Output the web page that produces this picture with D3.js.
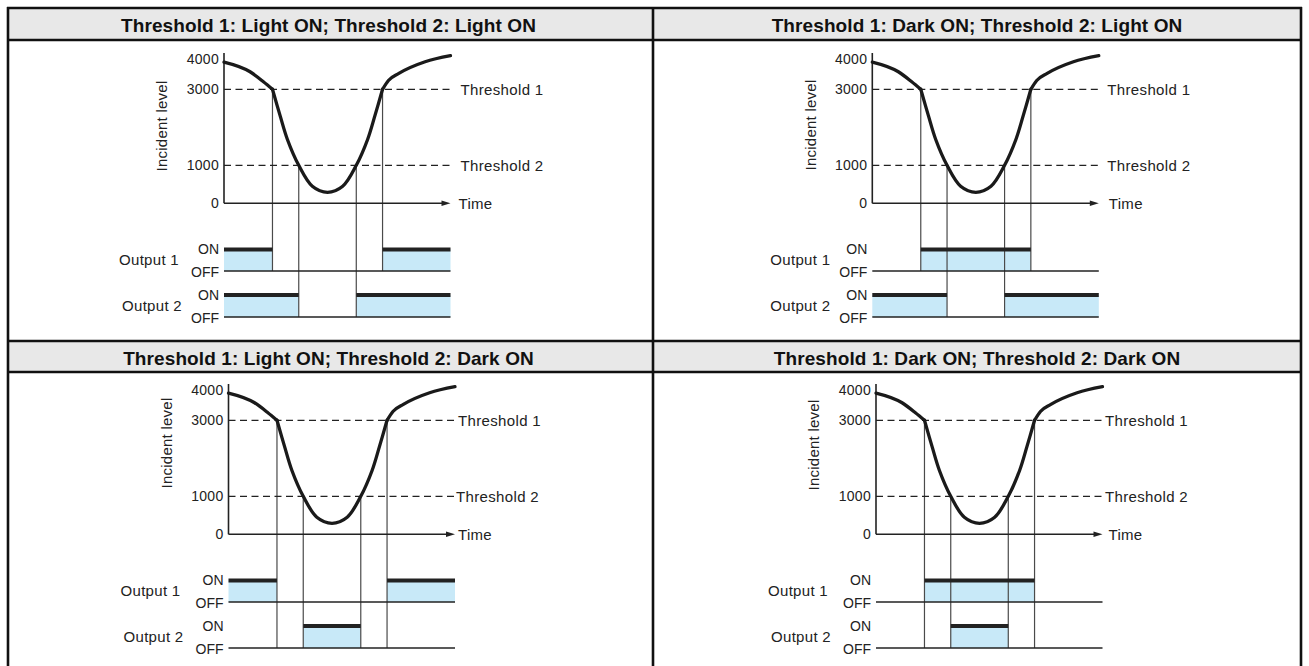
<!DOCTYPE html>
<html><head><meta charset="utf-8">
<script src="https://cdn.jsdelivr.net/npm/d3@7/dist/d3.min.js"></script>
<style>
body{margin:0;background:#fff}
svg{display:block}
text{font-family:"Liberation Sans",Arial,Helvetica,sans-serif;fill:#222}
</style>
</head><body>
<svg id="c" width="1309" height="666"></svg>
<script>
// ---------- data ----------
const panelTitles = [
  "Threshold 1: Light ON; Threshold 2: Light ON",
  "Threshold 1: Dark ON; Threshold 2: Light ON",
  "Threshold 1: Light ON; Threshold 2: Dark ON",
  "Threshold 1: Dark ON; Threshold 2: Dark ON"
];
const yTickValues = [0, 1000, 3000, 4000];
const yTickLabels = ["0", "1000", "3000", "4000"];
const yAxisTitle = "Incident level";
const xAxisTitle = "Time";
const thresholdValues = [3000, 1000];
const thresholdLabels = ["Threshold 1", "Threshold 2"];
const timeRange = [0, 100];
const levelTop = 4200;
// incident-level curve, three pieces (kinks at threshold 1)
const curveTime1  = [0, 11.5, 17.4, 21.4];
const curveLevel1 = [3900, 3580, 3250, 3000];
const curveTime2  = [21.4, 24.8, 28, 33, 39, 45.7, 52.4, 58.4, 63.4, 66.6, 70];
const curveLevel2 = [3000, 2300, 1680, 1000, 450, 290, 450, 1000, 1680, 2300, 3000];
const curveTime3  = [70, 72.6, 77.2, 88.8, 100];
const curveLevel3 = [3000, 3290, 3525, 3910, 4110];
const threshold1Crossings = [21.4, 70];
const threshold2Crossings = [33, 58.4];
const outputModes = [
  ["Light ON", "Light ON"],
  ["Dark ON", "Light ON"],
  ["Light ON", "Dark ON"],
  ["Dark ON", "Dark ON"]
];
const outputLabels = ["Output 1", "Output 2"];
const stateLabels = ["ON", "OFF"];

// ---------- layout ----------
const svg = d3.select("#c");
const BORDER = "#111";
const panels = [
  {x0: 8,   x1: 653,  top: 8,   axisX: 224,   dy: 0,   titleY: 126, outDx: [-45, -42], tGap: [10, 10], timeGap: 8,  guideTo: ["o1", "o2"]},
  {x0: 653, x1: 1301, top: 8,   axisX: 872.3, dy: 0,   titleY: 125, outDx: [-42, -42], tGap: [8.5, 8.5], timeGap: 10, guideTo: ["o1", "o2"]},
  {x0: 8,   x1: 653,  top: 341, axisX: 228.5, dy: 331, titleY: 443 - 331, outDx: [-48, -45], tGap: [3, 1], timeGap: 3, guideTo: ["o2", "o2"]},
  {x0: 653, x1: 1301, top: 341, axisX: 876,   dy: 331, titleY: 445 - 331, outDx: [-48, -45], tGap: [2.5, 2.5], timeGap: 6, guideTo: ["o2", "o2"]}
];
const W = 226.5;
const x = d3.scaleLinear().domain(timeRange).range([0, W]);
const y = d3.scaleLinear().domain([0, 1000, 3000, levelTop]).range([203.3, 165.3, 89.3, 53]);
const outY = [{on: 249.5, off: 271}, {on: 295, off: 317}];
const HEADER_H = 32;

// header backgrounds
panels.forEach((p, i) => {
  svg.append("rect").attr("x", p.x0).attr("y", p.top).attr("width", p.x1 - p.x0).attr("height", HEADER_H)
    .attr("fill", "#e8e8e8");
  svg.append("text").attr("x", (p.x0 + p.x1) / 2 - (i % 2 === 0 ? 2 : 0)).attr("y", p.top + HEADER_H / 2 + 1)
    .attr("text-anchor", "middle").attr("dy", "0.35em")
    .style("font-weight", "bold").style("font-size", "19px").style("letter-spacing", "0.1px")
    .style("fill", "#111")
    .text(panelTitles[i]);
});

// grid borders
const hLines = [8, 40, 341, 372];
hLines.forEach(v => svg.append("line").attr("x1", 7).attr("x2", 1302).attr("y1", v).attr("y2", v)
  .attr("stroke", BORDER).attr("stroke-width", 2.6));
[8, 653, 1301].forEach(v => svg.append("line").attr("x1", v).attr("x2", v).attr("y1", 7).attr("y2", 666)
  .attr("stroke", BORDER).attr("stroke-width", 2.6));

const mkLine = c => d3.line().x(d => x(d[0])).y(d => y(d[1])).curve(c);
const pieces = [
  {pts: d3.zip(curveTime1, curveLevel1), gen: mkLine(d3.curveMonotoneX)},
  {pts: d3.zip(curveTime2, curveLevel2), gen: mkLine(d3.curveCatmullRom.alpha(0.5))},
  {pts: d3.zip(curveTime3, curveLevel3), gen: mkLine(d3.curveMonotoneX)}
];

panels.forEach((p, pi) => {
  const g = svg.append("g").attr("transform", `translate(${p.axisX},${p.dy})`);
  const crossings = [threshold1Crossings, threshold2Crossings];
  const intervalsFor = (mode, c) => mode === "Light ON"
    ? [[timeRange[0], c[0]], [c[1], timeRange[1]]] : [[c[0], c[1]]];

  // output bands
  outputModes[pi].forEach((mode, oi) => {
    const oy = outY[oi];
    g.selectAll(null).data(intervalsFor(mode, crossings[oi])).enter().append("rect")
      .attr("x", d => x(d[0])).attr("width", d => x(d[1]) - x(d[0]))
      .attr("y", oy.on).attr("height", oy.off - oy.on)
      .attr("fill", "#c8e9f8");
  });

  // guide lines
  crossings.forEach((c, k) => {
    const endY = p.guideTo[k] === "o1" ? outY[0].off : outY[1].off;
    g.selectAll(null).data(c).enter().append("line")
      .attr("x1", d => x(d)).attr("x2", d => x(d))
      .attr("y1", y(thresholdValues[k])).attr("y2", endY)
      .attr("stroke", "#4a4a4a").attr("stroke-width", 1.2);
  });

  outputModes[pi].forEach((mode, oi) => {
    const oy = outY[oi];
    g.append("line").attr("x1", x(timeRange[0])).attr("x2", x(timeRange[1]))
      .attr("y1", oy.off).attr("y2", oy.off).attr("stroke", "#222").attr("stroke-width", 1.6);
    g.selectAll(null).data(intervalsFor(mode, crossings[oi])).enter().append("line")
      .attr("x1", d => x(d[0])).attr("x2", d => x(d[1]))
      .attr("y1", oy.on).attr("y2", oy.on).attr("stroke", "#222").attr("stroke-width", 3.8);
    // labels
    g.append("text").attr("x", -5).attr("y", oy.on).attr("dy", "0.35em").attr("text-anchor", "end")
      .style("font-size", "14px").text(stateLabels[0]);
    g.append("text").attr("x", -5).attr("y", oy.off + 1).attr("dy", "0.35em").attr("text-anchor", "end")
      .style("font-size", "14px").text(stateLabels[1]);
    g.append("text").attr("x", p.outDx[oi]).attr("y", (oy.on + oy.off) / 2 - 0.5).attr("dy", "0.35em")
      .attr("text-anchor", "end").style("font-size", "15px").style("letter-spacing", "0.3px")
      .text(outputLabels[oi]);
  });

  // threshold dashed lines
  thresholdValues.forEach((v, k) => {
    g.append("line").attr("x1", 0).attr("x2", W).attr("y1", y(v)).attr("y2", y(v))
      .attr("stroke", "#222").attr("stroke-width", 1.2).attr("stroke-dasharray", "7,4.5");
    g.append("text").attr("x", W + p.tGap[k]).attr("y", y(v)).attr("dy", "0.35em")
      .style("font-size", "15px").style("letter-spacing", "0.35px").text(thresholdLabels[k]);
  });

  // axes
  g.append("line").attr("x1", 0).attr("x2", 0).attr("y1", y(0)).attr("y2", y(levelTop))
    .attr("stroke", "#222").attr("stroke-width", 1.6);
  g.append("line").attr("x1", 0).attr("x2", W - 6).attr("y1", y(0)).attr("y2", y(0))
    .attr("stroke", "#222").attr("stroke-width", 1.6);
  g.append("path").attr("d", `M${W},${y(0)} L${W - 9},${y(0) - 2.8} L${W - 9},${y(0) + 2.8} Z`).attr("fill", "#222");
  g.append("text").attr("x", W + p.timeGap).attr("y", y(0)).attr("dy", "0.35em")
    .style("font-size", "15px").style("letter-spacing", "0.3px").text(xAxisTitle);

  g.selectAll(null).data(yTickValues).enter().append("text")
    .attr("x", -5).attr("y", d => y(d)).attr("dy", "0.35em").attr("text-anchor", "end")
    .style("font-size", "14px").style("letter-spacing", "0.3px")
    .text((d, i) => yTickLabels[i]);

  g.append("text").attr("transform", `translate(${-62},${p.titleY}) rotate(-90)`)
    .attr("text-anchor", "middle").attr("dy", "0.35em")
    .style("font-size", "15px").style("letter-spacing", "0.25px").text(yAxisTitle);

  // curve
  pieces.forEach(pc => {
    g.append("path").attr("d", pc.gen(pc.pts)).attr("fill", "none")
      .attr("stroke", "#1a1a1a").attr("stroke-width", 3.3).attr("stroke-linecap", "round");
  });
});
</script>
</body></html>
